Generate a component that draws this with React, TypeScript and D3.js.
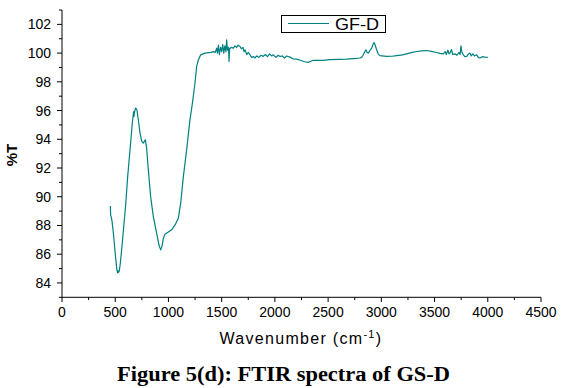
import * as d3 from "d3";
import React from "react";

// spectrum (cm^-1, %T)
const wavenumber = [
  454, 457, 460, 470, 485, 498, 514, 522, 526, 532, 538, 548, 566, 598, 617, 639,
  660, 673, 677, 681, 692, 704, 717, 733, 749, 764, 773, 783, 795, 811, 833, 858,
  889, 911, 927, 939, 952, 968, 989, 1030, 1062, 1093, 1115, 1140, 1171, 1202, 1225, 1249,
  1265, 1280, 1303, 1343, 1400, 1421, 1440, 1453, 1460, 1470, 1478, 1490, 1500, 1510, 1520, 1530,
  1540, 1547, 1555, 1565, 1569, 1575, 1590, 1610, 1625, 1640, 1655, 1672, 1685, 1700, 1710, 1719,
  1735, 1750, 1766, 1780, 1800, 1813, 1830, 1850, 1870, 1891, 1910, 1930, 1950, 1970, 1985, 2010,
  2030, 2048, 2070, 2090, 2110, 2142, 2170, 2204, 2240, 2280, 2314, 2340, 2361, 2400, 2450, 2518,
  2600, 2675, 2740, 2799, 2820, 2830, 2845, 2856, 2866, 2878, 2895, 2909, 2922, 2931, 2940, 2956,
  2970, 2987, 3050, 3100, 3144, 3200, 3238, 3290, 3332, 3380, 3426, 3470, 3520, 3550, 3582, 3600,
  3610, 3625, 3635, 3645, 3660, 3670, 3691, 3710, 3730, 3740, 3748, 3756, 3770, 3785, 3802, 3815,
  3833, 3845, 3860, 3875, 3896, 3910, 3927, 3950, 3974, 4000,
];
const transmittance = [
  89.36, 88.7, 88.66, 88.3, 87.3, 86.2, 85.0, 84.7, 84.85, 84.74, 84.83, 85.37, 86.76, 89.43, 91.4, 93.26,
  95.1, 95.93, 95.6, 95.9, 96.17, 96.05, 95.36, 94.43, 93.85, 93.73, 93.85, 93.96, 93.38, 91.87, 90.0, 88.62,
  87.46, 86.64, 86.3, 86.53, 87.1, 87.4, 87.5, 87.7, 88.04, 88.5, 89.55, 91.4, 93.26, 95.35, 96.5, 97.9,
  99.07, 99.5, 99.88, 100.0, 100.05, 100.1, 100.05, 100.35, 100.0, 100.55, 99.9, 100.4, 100.1, 100.6, 100.0, 100.5,
  100.1, 100.93, 100.2, 100.4, 99.42, 100.3, 100.4, 100.35, 100.5, 100.4, 100.55, 100.46, 100.3, 100.4, 100.1, 100.23,
  99.9, 100.05, 99.9, 99.7, 99.75, 99.66, 99.8, 99.7, 99.85, 99.77, 99.9, 99.75, 99.95, 99.8, 99.88, 99.7,
  99.85, 99.77, 99.8, 99.65, 99.8, 99.72, 99.6, 99.58, 99.5, 99.4, 99.35, 99.45, 99.49, 99.5, 99.5, 99.54,
  99.56, 99.58, 99.62, 99.66, 99.75, 99.88, 100.1, 100.23, 100.05, 100.0, 100.2, 100.35, 100.6, 100.74, 100.6, 100.23,
  99.95, 99.82, 99.77, 99.78, 99.82, 99.88, 99.95, 100.05, 100.11, 100.16, 100.18, 100.12, 100.04, 99.98, 99.95, 100.1,
  99.9, 100.2, 99.95, 100.0, 100.25, 99.9, 99.95, 99.85, 100.05, 99.9, 100.51, 100.1, 99.88, 99.75, 99.77, 99.9,
  100.0, 99.8, 99.95, 99.8, 99.88, 99.7, 99.66, 99.75, 99.72, 99.7,
];

const xTicks = [0, 500, 1000, 1500, 2000, 2500, 3000, 3500, 4000, 4500];
const yTicks = [84, 86, 88, 90, 92, 94, 96, 98, 100, 102];
const seriesName = "GF-D";

const color = "#008080";
const font = "Liberation Sans, Arial, sans-serif";

const App: React.FC = () => {
  const width = 566;
  const height = 388;
  const x = d3.scaleLinear().domain([0, 4500]).range([62, 541]);
  const y = d3.scaleLinear().domain([83, 103]).range([297.3, 10]);

  const points = wavenumber.map((w, i) => [w, transmittance[i]] as [number, number]);
  const line = d3
    .line<[number, number]>()
    .x((d) => x(d[0]))
    .y((d) => y(d[1]));

  const xMinor = d3.range(250, 4500, 500);
  const yMinor = d3.range(83, 104, 1).filter((v) => v % 2 !== 0);

  return (
    <svg width={width} height={height} style={{ position: "absolute", left: 0, top: 0, background: "#fff" }}>
      {/* y axis */}
      <line x1={62} x2={62} y1={y(103)} y2={y(83)} stroke="#000" />
      {yTicks.map((t) => (
        <g key={t}>
          <line x1={57} x2={62} y1={y(t)} y2={y(t)} stroke="#000" />
          <text x={51} y={y(t) + 5} textAnchor="end" fontFamily={font} fontSize={14}>
            {t}
          </text>
        </g>
      ))}
      {yMinor.map((t) => (
        <line key={t} x1={59} x2={62} y1={y(t)} y2={y(t)} stroke="#000" />
      ))}
      {/* x axis */}
      <line x1={x(0)} x2={x(4500)} y1={297.3} y2={297.3} stroke="#000" />
      {xTicks.map((t) => (
        <g key={t}>
          <line x1={x(t)} x2={x(t)} y1={297.3} y2={302} stroke="#000" />
          <text x={x(t)} y={317} textAnchor="middle" fontFamily={font} fontSize={14}>
            {t}
          </text>
        </g>
      ))}
      {xMinor.map((t) => (
        <line key={t} x1={x(t)} x2={x(t)} y1={297.3} y2={300} stroke="#000" />
      ))}
      <text x={301} y={344} textAnchor="middle" fontFamily={font} fontSize={16} letterSpacing={1.3}>
        Wavenumber (cm
        <tspan dy={-6} fontSize={11}>-1</tspan>
        <tspan dy={6}>)</tspan>
      </text>
      <text
        transform="translate(17,155) rotate(-90)"
        textAnchor="middle"
        fontFamily={font}
        fontSize={15}
        fontWeight="bold"
      >
        %T
      </text>

      <path d={line(points) ?? ""} fill="none" stroke={color} strokeWidth={1.2} strokeLinejoin="round" />

      {/* legend */}
      <rect x={281.5} y={15.5} width={104} height={17} fill="#fff" stroke="#000" />
      <line x1={288} x2={329} y1={23.5} y2={23.5} stroke={color} strokeWidth={1.2} />
      <text x={335} y={29.5} fontFamily={font} fontSize={16} textLength={44} lengthAdjust="spacingAndGlyphs">
        {seriesName}
      </text>

      <text
        x={117}
        y={381}
        fontFamily="Liberation Serif, Times New Roman, serif"
        fontWeight="bold"
        fontSize={20}
        textLength={333}
        lengthAdjust="spacingAndGlyphs"
      >
        Figure 5(d): FTIR spectra of GS-D
      </text>
    </svg>
  );
};

export default App;
